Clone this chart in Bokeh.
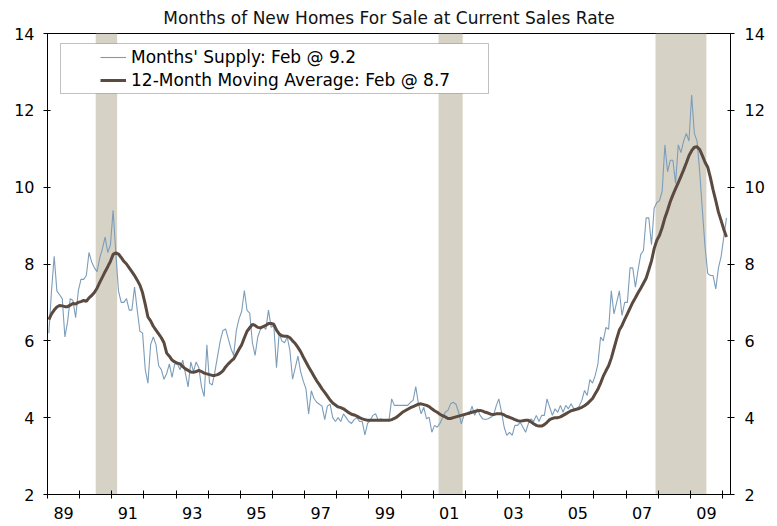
from bokeh.plotting import figure
from bokeh.models import (Range1d, FixedTicker, LinearAxis, Legend, LegendItem,
                          BoxAnnotation, CustomJSTickFormatter, ColumnDataSource)
from bokeh.embed import file_html
from bokeh.resources import INLINE

FONT = "DejaVu Sans"

# ---------------- data ----------------
START_YEAR = 1989

supply_1989 = [6.2, 7.3, 8.2, 7.3, 7.2, 7.1, 6.1, 6.5, 7.1, 7.05, 6.6, 7.3]
supply_1990 = [7.6, 7.6, 7.7, 8.3, 8.05, 7.9, 7.8, 8.15, 8.4, 8.7, 8.3, 8.5]
supply_1991 = [9.4, 8.3, 7.3, 7.0, 7.0, 7.1, 6.8, 6.8, 7.4, 6.8, 6.25, 6.2]
supply_1992 = [5.25, 4.9, 5.9, 6.1, 5.9, 5.35, 5.25, 5.0, 5.15, 5.4, 5.05, 5.4]
supply_1993 = [5.4, 5.25, 5.5, 5.15, 4.8, 5.45, 5.2, 5.45, 5.3, 4.8, 4.55, 5.9]
supply_1994 = [4.9, 4.85, 5.2, 5.6, 6.0, 6.27, 6.31, 6.05, 5.8, 5.62, 6.27, 6.57]
supply_1995 = [6.77, 7.31, 6.79, 6.72, 5.95, 5.62, 6.1, 6.3, 6.38, 6.3, 6.8, 6.35]
supply_1996 = [6.4, 5.3, 6.2, 6.0, 5.95, 6.1, 5.75, 5.0, 5.3, 5.6, 5.2, 4.95]
supply_1997 = [4.75, 4.1, 4.7, 4.5, 4.4, 4.35, 4.3, 3.95, 4.3, 4.35, 4.0, 3.9]
supply_1998 = [4.0, 3.9, 4.1, 4.0, 3.9, 3.85, 3.95, 4.0, 3.9, 3.9, 3.55, 3.85]
supply_1999 = [3.93, 4.06, 4.10, 3.93, 3.97, 3.93, 3.95, 3.93, 4.49, 4.32, 4.32, 4.32]
supply_2000 = [4.32, 4.32, 4.32, 4.40, 4.45, 4.81, 4.36, 4.10, 4.27, 3.97, 4.01, 3.62]
supply_2001 = [3.80, 3.75, 3.85, 4.0, 4.14, 4.19, 4.36, 4.40, 4.35, 4.14, 3.84, 4.06]
supply_2002 = [4.10, 4.08, 4.30, 4.06, 4.23, 4.06, 3.97, 3.95, 3.97, 4.01, 4.06, 4.30]
supply_2003 = [4.49, 4.15, 3.75, 3.54, 3.62, 3.54, 3.80, 3.80, 3.88, 3.75, 3.62, 3.84]
supply_2004 = [3.97, 3.90, 4.06, 3.90, 4.06, 4.06, 4.49, 4.27, 4.06, 4.23, 4.14, 4.32]
supply_2005 = [4.14, 4.32, 4.23, 4.36, 4.23, 4.23, 4.30, 4.45, 4.71, 4.58, 4.99, 4.90]
supply_2006 = [5.10, 5.40, 6.10, 6.00, 6.35, 6.30, 7.30, 6.70, 7.00, 7.30, 6.66, 7.00]
supply_2007 = [7.0, 7.9, 7.9, 7.4, 7.85, 8.25, 8.35, 9.2, 9.2, 8.5, 9.45, 9.6]
supply_2008 = [9.65, 9.9, 11.1, 10.4, 10.7, 10.7, 10.1, 11.1, 10.9, 11.2, 11.4, 11.2]
supply_2009 = [12.4, 11.4, 11.2, 10.4, 9.4, 8.45, 7.75, 7.7, 7.7, 7.35, 7.9, 8.2]
supply_2010 = [8.7, 9.2]

ma_1989 = [6.55, 6.70, 6.80, 6.88, 6.92, 6.91, 6.89, 6.89, 6.93, 6.97, 6.96, 7.0]
ma_1990 = [7.02, 7.05, 7.03, 7.12, 7.18, 7.26, 7.37, 7.52, 7.66, 7.80, 7.93, 8.07]
ma_1991 = [8.25, 8.29, 8.26, 8.17, 8.07, 8.0, 7.9, 7.80, 7.70, 7.58, 7.45, 7.25]
ma_1992 = [6.95, 6.62, 6.52, 6.38, 6.28, 6.18, 6.08, 5.95, 5.68, 5.60, 5.50, 5.45]
ma_1993 = [5.42, 5.40, 5.33, 5.27, 5.23, 5.19, 5.18, 5.20, 5.23, 5.20, 5.16, 5.14]
ma_1994 = [5.12, 5.10, 5.10, 5.12, 5.16, 5.22, 5.32, 5.40, 5.47, 5.53, 5.65, 5.78]
ma_1995 = [5.90, 6.08, 6.25, 6.34, 6.43, 6.40, 6.35, 6.34, 6.37, 6.40, 6.45, 6.45]
ma_1996 = [6.43, 6.28, 6.18, 6.13, 6.12, 6.12, 6.08, 6.0, 5.93, 5.83, 5.72, 5.58]
ma_1997 = [5.45, 5.32, 5.20, 5.08, 4.96, 4.86, 4.75, 4.66, 4.56, 4.46, 4.38, 4.33]
ma_1998 = [4.28, 4.26, 4.23, 4.18, 4.13, 4.09, 4.07, 4.04, 4.0, 3.97, 3.95, 3.93]
ma_1999 = [3.93, 3.93, 3.93, 3.93, 3.93, 3.93, 3.93, 3.93, 3.95, 3.98, 4.02, 4.08]
ma_2000 = [4.14, 4.18, 4.22, 4.26, 4.29, 4.32, 4.35, 4.36, 4.34, 4.32, 4.29, 4.23]
ma_2001 = [4.18, 4.14, 4.09, 4.05, 4.02, 3.98, 3.98, 4.0, 4.02, 4.04, 4.06, 4.08]
ma_2002 = [4.10, 4.12, 4.14, 4.16, 4.18, 4.19, 4.17, 4.14, 4.12, 4.09, 4.08, 4.10]
ma_2003 = [4.10, 4.10, 4.07, 4.03, 4.01, 3.98, 3.95, 3.92, 3.91, 3.92, 3.93, 3.93]
ma_2004 = [3.89, 3.84, 3.80, 3.78, 3.78, 3.82, 3.88, 3.95, 3.98, 4.0, 4.0, 4.02]
ma_2005 = [4.06, 4.10, 4.14, 4.18, 4.20, 4.22, 4.24, 4.27, 4.31, 4.36, 4.43, 4.50]
ma_2006 = [4.62, 4.74, 4.90, 5.08, 5.22, 5.35, 5.55, 5.80, 6.05, 6.28, 6.40, 6.56]
ma_2007 = [6.70, 6.85, 7.0, 7.12, 7.25, 7.37, 7.50, 7.63, 7.85, 8.08, 8.40, 8.62]
ma_2008 = [8.75, 8.95, 9.20, 9.40, 9.62, 9.80, 9.96, 10.12, 10.28, 10.45, 10.63, 10.82]
ma_2009 = [10.95, 11.04, 11.05, 10.98, 10.82, 10.65, 10.52, 10.25, 9.93, 9.65, 9.35, 9.13]
ma_2010 = [8.9, 8.7]

# recessions: (first month, last month) inclusive
recession_start = ["1990-07", "2001-03", "2007-12"]
recession_end = ["1991-02", "2001-11", "2009-06"]

x_tick_years = list(range(1989, 2011))
x_label_years = list(range(1989, 2010, 2))
y_ticks = [2, 4, 6, 8, 10, 12, 14]

series_label = "Months' Supply: Feb @ 9.2"
ma_label = "12-Month Moving Average: Feb @ 8.7"
title_text = "Months of New Homes For Sale at Current Sales Rate"

# ---------------- assemble ----------------
supply = (supply_1989 + supply_1990 + supply_1991 + supply_1992 + supply_1993 + supply_1994 +
          supply_1995 + supply_1996 + supply_1997 + supply_1998 + supply_1999 + supply_2000 +
          supply_2001 + supply_2002 + supply_2003 + supply_2004 + supply_2005 + supply_2006 +
          supply_2007 + supply_2008 + supply_2009 + supply_2010)
ma = (ma_1989 + ma_1990 + ma_1991 + ma_1992 + ma_1993 + ma_1994 + ma_1995 + ma_1996 +
      ma_1997 + ma_1998 + ma_1999 + ma_2000 + ma_2001 + ma_2002 + ma_2003 + ma_2004 +
      ma_2005 + ma_2006 + ma_2007 + ma_2008 + ma_2009 + ma_2010)
dates = [START_YEAR + (i + 0.5) / 12.0 for i in range(len(supply))]


def month_start(s):
    y, m = s.split("-")
    return int(y) + (int(m) - 1) / 12.0


rec_left = [month_start(s) for s in recession_start]
rec_right = [month_start(s) + 1 / 12.0 for s in recession_end]

src = ColumnDataSource(dict(x=dates, supply=supply, ma=ma))
rec_src = ColumnDataSource(dict(left=rec_left, right=rec_right,
                                bottom=[2] * len(rec_left), top=[14] * len(rec_left)))

X0, X1 = 1989.0, 2010.25
p = figure(width=777, height=526, x_range=Range1d(X0, X1), y_range=Range1d(2, 14),
           output_backend="svg", toolbar_location=None,
           min_border_left=47, min_border_right=47, min_border_top=33, min_border_bottom=32,
           background_fill_color="white", border_fill_color="white")

p.title.text = title_text
p.title.align = "center"
p.title.text_font = FONT
p.title.text_font_size = "17px"
p.title.text_font_style = "normal"
p.title.text_color = "#111111"
p.title.standoff = 11

p.xgrid.visible = False
p.ygrid.visible = False
p.outline_line_color = "black"
p.outline_line_width = 1

# recession shading
p.quad(left="left", right="right", bottom="bottom", top="top", source=rec_src,
       fill_color="#D6D2C6", line_color=None)

r_supply = p.line("x", "supply", source=src, line_color="#7C9DBA", line_width=1.1)
r_ma = p.line("x", "ma", source=src, line_color="#5A4A40", line_width=3)

# x axis
xa = p.xaxis[0]
xa.ticker = FixedTicker(ticks=[y + 0.5 for y in x_label_years], minor_ticks=x_tick_years)
xa.formatter = CustomJSTickFormatter(code="""
    const y = Math.floor(tick) % 100;
    return (y < 10 ? "0" : "") + y;
""")
xa.major_tick_in = 0
xa.major_tick_out = 0
xa.minor_tick_in = 4
xa.minor_tick_out = 4
xa.minor_tick_line_color = "black"
xa.axis_line_color = "black"
xa.major_label_standoff = 8
xa.major_label_text_font = FONT
xa.major_label_text_font_size = "16px"
xa.major_label_text_color = "black"

# y axes
ya = p.yaxis[0]
ya.ticker = FixedTicker(ticks=y_ticks)
ya.minor_tick_line_color = None
ya.major_tick_in = 3
ya.major_tick_out = 4
ya.major_label_standoff = 9
ya.major_label_text_font = FONT
ya.major_label_text_font_size = "16px"
ya.major_label_text_color = "black"
ya.axis_line_color = "black"

ya2 = LinearAxis(ticker=FixedTicker(ticks=y_ticks))
ya2.minor_tick_line_color = None
ya2.major_tick_in = 3
ya2.major_tick_out = 4
ya2.major_label_standoff = 10
ya2.major_label_text_font = FONT
ya2.major_label_text_font_size = "16px"
ya2.major_label_text_color = "black"
ya2.axis_line_color = "black"
p.add_layout(ya2, "right")

# legend box (frame-pixel offsets converted to data units)
FRAME_W, FRAME_H = 683.0, 461.0
def fx(px):
    return X0 + px * (X1 - X0) / FRAME_W
def fy(py):
    return 14 - py * 12.0 / FRAME_H

box = BoxAnnotation(left=fx(13), right=fx(441), top=fy(10), bottom=fy(60),
                    fill_color="white", fill_alpha=1.0,
                    line_color="#333333", line_width=1, level="annotation")
p.add_layout(box)

legend = Legend(items=[LegendItem(label=series_label, renderers=[r_supply]),
                       LegendItem(label=ma_label, renderers=[r_ma])],
                location=(53, FRAME_H - 14 - 43),
                padding=0, margin=0, spacing=3,
                glyph_width=26, glyph_height=20, label_height=20, label_standoff=5,
                label_text_font=FONT, label_text_font_size="17px",
                label_text_color="black",
                background_fill_alpha=0, border_line_alpha=0)
p.add_layout(legend, "center")

open("out.html", "w").write(file_html(p, INLINE))
